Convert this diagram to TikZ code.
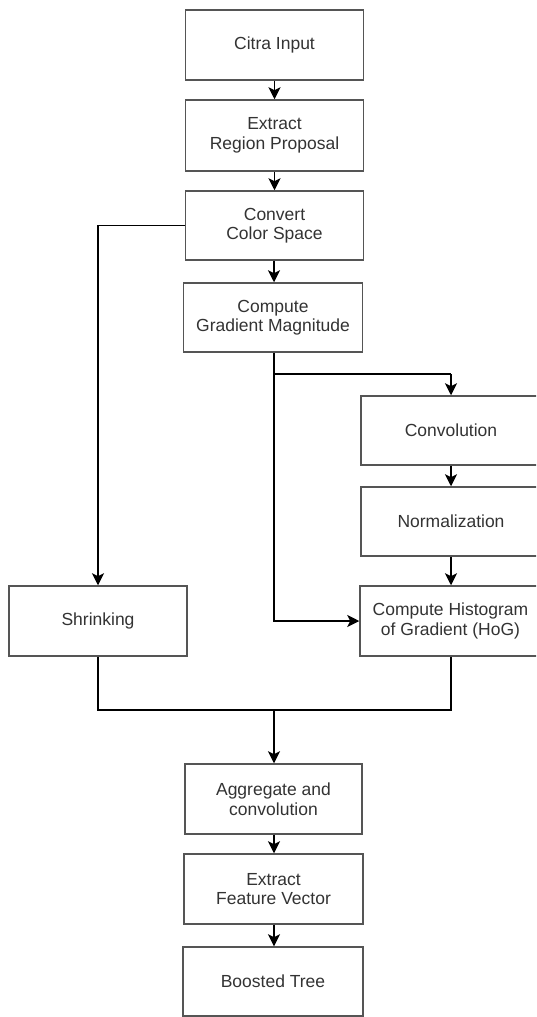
\documentclass[tikz,border=0pt]{standalone}
\usepackage{fontspec}
\setmainfont{Liberation Sans}
\usetikzlibrary{arrows.meta,positioning}
\definecolor{txt}{HTML}{333333}
\definecolor{edge}{HTML}{555555}
\tikzset{
  box/.style={draw=edge, line width=1.5pt, fill=white, minimum width=178pt, minimum height=70pt,
    inner sep=2pt, align=center, text=txt, font=\fontsize{17.5}{19.5}\selectfont},
  conn/.style={draw=black, line width=1.3pt},
  arr/.style={conn, -{Stealth[length=12pt,width=12pt,inset=3pt]}}
}
\begin{document}
\begin{tikzpicture}[x=1pt,y=-1pt]
\clip (0,0) rectangle (536,1017);
\fill[white] (0,0) rectangle (536,1017);
\node[box] (citra) at (274.5,45) {Citra Input};
\node[box, minimum height=71pt] (extract) at (274.5,135.5) {Extract\\Region Proposal};
\node[box, minimum height=69pt] (convert) at (274.5,225.5) {Convert\\Color Space};
\node[box, minimum width=179pt, minimum height=69pt] (grad) at (273,317.5) {Compute\\Gradient Magnitude};
\node[box, minimum width=180pt, minimum height=69pt] (conv) at (451,430.5) {Convolution};
\node[box, minimum width=180pt, minimum height=69pt] (norm) at (451,521.5) {Normalization};
\node[box, minimum width=181pt] (hog) at (450.5,621) {Compute Histogram\\of Gradient (HoG)};
\node[box] (shrink) at (98,621) {Shrinking};
\node[box, minimum width=177pt] (agg) at (273.5,799) {Aggregate and\\convolution};
\node[box, minimum width=179pt] (feat) at (273.5,889) {Extract\\Feature Vector};
\node[box, minimum width=180pt, minimum height=69pt] (boost) at (273,981.5) {Boosted Tree};
\coordinate (gs) at (274,352);
\coordinate (j1) at (451,374);
\coordinate (m) at (274,710);
\draw[arr] (citra) -- (extract);
\draw[arr] (extract) -- (convert);
\draw[arr] (convert.south -| gs) -- (grad.north -| gs);
\draw[arr] (convert.west) -| (shrink.north);
\draw[conn] (grad.south -| gs) |- (j1);
\draw[arr] (j1) -- (conv.north);
\draw[arr] (grad.south -| gs) |- (hog.west);
\draw[arr] (conv) -- (norm);
\draw[arr] (norm.south -| j1) -- (hog.north -| j1);
\draw[conn] (shrink.south) |- (m);
\draw[conn] (hog.south -| j1) |- (m);
\draw[arr] (m) -- (agg.north -| m);
\draw[arr] (agg.south -| m) -- (feat.north -| m);
\draw[arr] (feat.south -| m) -- (boost.north -| m);
\end{tikzpicture}
\end{document}
